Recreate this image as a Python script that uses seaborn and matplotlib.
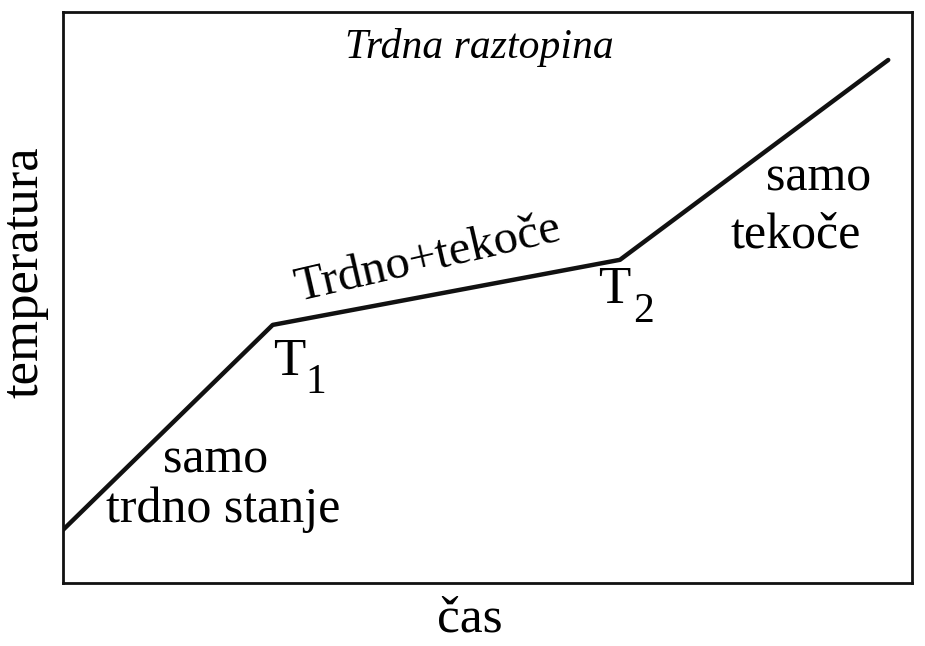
import matplotlib
matplotlib.use("Agg")
import matplotlib.pyplot as plt
import seaborn as sns
import pandas as pd

# ohlajevalna / segrevalna krivulja trdne raztopine
cas = [0.0, 2.47, 6.56, 9.72]
temperatura = [0.93, 4.52, 5.66, 9.16]

df = pd.DataFrame({"cas": cas, "temperatura": temperatura})

sns.set_style("white")
plt.rcParams['font.family'] = ['Liberation Serif', 'DejaVu Serif']
plt.rcParams['text.color'] = 'black'
plt.rcParams['axes.labelcolor'] = 'black'

fig = plt.figure(figsize=(9.25, 6.46), dpi=100)
ax = fig.add_axes([63/925, 1 - 583/646, 849/925, 571/646])

sns.lineplot(data=df, x="cas", y="temperatura", color="#111111", linewidth=3.2, ax=ax)

ax.set_xlim(0, 10)
ax.set_ylim(0, 10)
ax.set_xticks([])
ax.set_yticks([])
for s in ax.spines.values():
    s.set_color("#111111")
    s.set_linewidth(2)

ax.set_xlabel("čas", fontsize=37)
ax.set_ylabel("temperatura", fontsize=38)
ax.xaxis.set_label_coords(0.479, -0.022)
ax.yaxis.set_label_coords(-0.017, 0.545)

ax.text(4.91, 9.37, "Trdna raztopina", fontsize=30, style="italic", ha="center", va="center")
ax.text(4.3, 5.68, "Trdno+tekoče", fontsize=35, ha="center", va="center", rotation=13)
ax.text(2.47, 3.87, "T", fontsize=38, ha="left", va="center")
ax.text(2.85, 3.5, "1", fontsize=30, ha="left", va="center")
ax.text(6.30, 5.13, "T", fontsize=38, ha="left", va="center")
ax.text(6.71, 4.75, "2", fontsize=30, ha="left", va="center")
ax.text(8.90, 7.09, "samo", fontsize=36, ha="center", va="center")
ax.text(8.63, 6.09, "tekoče", fontsize=36, ha="center", va="center")
ax.text(1.80, 2.15, "samo", fontsize=36, ha="center", va="center")
ax.text(1.89, 1.28, "trdno stanje", fontsize=36, ha="center", va="center")

fig.savefig("out.png", dpi=100)
